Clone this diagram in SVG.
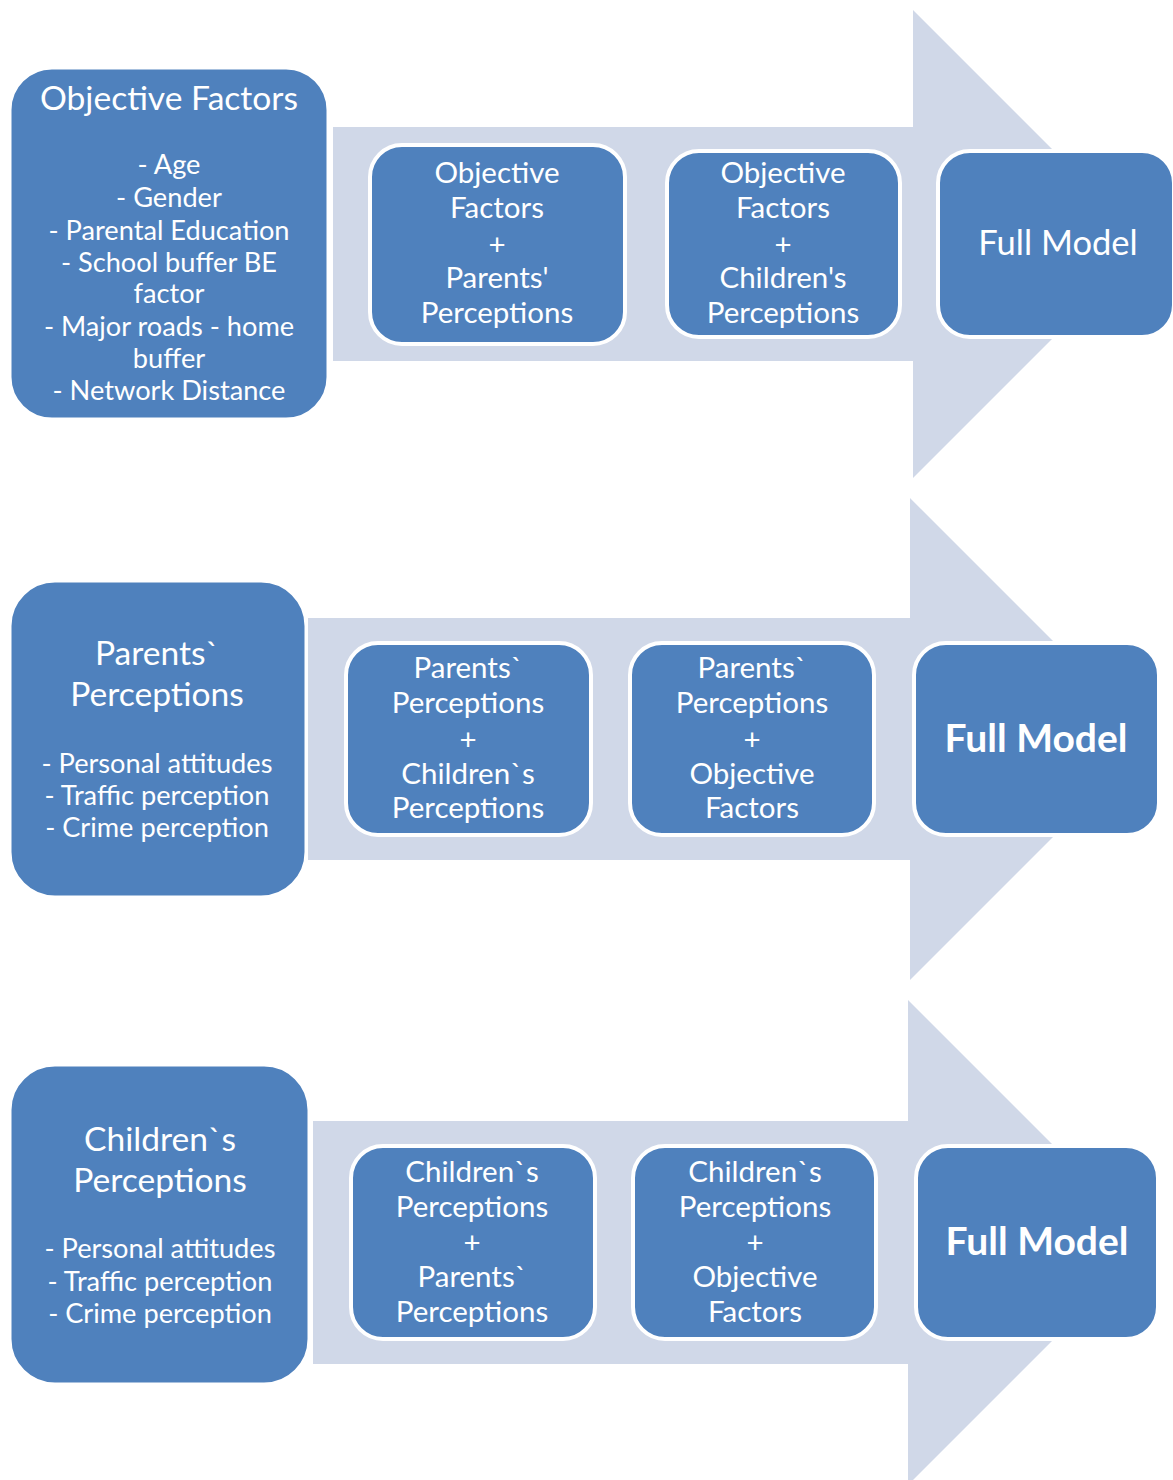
<svg xmlns="http://www.w3.org/2000/svg" width="1173" height="1480" viewBox="0 0 1173 1480">
<style>
.arrow{fill:#D0D8E8;stroke:none}
.big{fill:#4F81BD;stroke:#FFFFFF;stroke-width:3}
.box{fill:#4F81BD;stroke:#FFFFFF;stroke-width:4}
text{font-family:Lato,"Liberation Sans",sans-serif;fill:#FFFFFF;text-anchor:middle}
.t{font-size:33.6px}
.l{font-size:27.2px}
.i{font-size:29.5px}
.fm{font-size:34.5px}
.fb{font-size:39px;font-weight:bold}
</style>
<rect x="0" y="0" width="1173" height="1480" fill="#FFFFFF"/>
<g id="connectors">
<path class="arrow" d="M333,127 H913 V10 L1147,244 L913,478 V361 H333 Z"/>
<path class="arrow" d="M308,618 H910 V498 L1151,739 L910,980 V860 H308 Z"/>
<path class="arrow" d="M313,1121 H908 V1000 L1150.5,1242.5 L908,1485 V1364 H313 Z"/>
</g>
<g id="objective-factors">
<rect class="big" x="10" y="68" width="318" height="351" rx="42"/>
<text class="t" x="169" y="110">Objective Factors</text>
<text class="l" x="169" y="174">- Age</text>
<text class="l" x="169" y="207">- Gender</text>
<text class="l" x="169" y="240">- Parental Education</text>
<text class="l" x="169" y="272">- School buffer BE</text>
<text class="l" x="169" y="303">factor</text>
<text class="l" x="169" y="336">- Major roads - home</text>
<text class="l" x="169" y="368">buffer</text>
<text class="l" x="169" y="400">- Network Distance</text>
</g>
<g id="of-plus-parents">
<rect class="box" x="370" y="145" width="255" height="199" rx="32"/>
<text class="i" x="497" y="183">Objective</text>
<text class="i" x="497" y="218">Factors</text>
<text class="i" x="497" y="255">+</text>
<text class="i" x="497" y="288">Parents'</text>
<text class="i" x="497" y="323">Perceptions</text>
</g>
<g id="of-plus-children">
<rect class="box" x="667" y="151" width="233" height="186" rx="32"/>
<text class="i" x="783" y="183">Objective</text>
<text class="i" x="783" y="218">Factors</text>
<text class="i" x="783" y="255">+</text>
<text class="i" x="783" y="288">Children's</text>
<text class="i" x="783" y="323">Perceptions</text>
</g>
<g id="full-model-1">
<rect class="box" x="938" y="151" width="236" height="186" rx="32"/>
<text class="fm" x="1058" y="255">Full Model</text>
</g>
<g id="parents-perceptions">
<rect class="big" x="10" y="581" width="296" height="316" rx="45"/>
<text class="t" x="157" y="665">Parents`</text>
<text class="t" x="157" y="706">Perceptions</text>
<text class="l" x="157" y="773">- Personal attitudes</text>
<text class="l" x="157" y="805">- Traffic perception</text>
<text class="l" x="157" y="837">- Crime perception</text>
</g>
<g id="pp-plus-children">
<rect class="box" x="346" y="643" width="245" height="192" rx="32"/>
<text class="i" x="468" y="678">Parents`</text>
<text class="i" x="468" y="713">Perceptions</text>
<text class="i" x="468" y="750">+</text>
<text class="i" x="468" y="784">Children`s</text>
<text class="i" x="468" y="818">Perceptions</text>
</g>
<g id="pp-plus-objective">
<rect class="box" x="630" y="643" width="244" height="192" rx="32"/>
<text class="i" x="752" y="678">Parents`</text>
<text class="i" x="752" y="713">Perceptions</text>
<text class="i" x="752" y="750">+</text>
<text class="i" x="752" y="784">Objective</text>
<text class="i" x="752" y="818">Factors</text>
</g>
<g id="full-model-2">
<rect class="box" x="914" y="643" width="245" height="192" rx="32"/>
<text class="fb" x="1036" y="752">Full Model</text>
</g>
<g id="childrens-perceptions">
<rect class="big" x="10" y="1065" width="299" height="319" rx="45"/>
<text class="t" x="160" y="1151">Children`s</text>
<text class="t" x="160" y="1192">Perceptions</text>
<text class="l" x="160" y="1258">- Personal attitudes</text>
<text class="l" x="160" y="1291">- Traffic perception</text>
<text class="l" x="160" y="1323">- Crime perception</text>
</g>
<g id="cp-plus-parents">
<rect class="box" x="351" y="1146" width="244" height="193" rx="32"/>
<text class="i" x="472" y="1182">Children`s</text>
<text class="i" x="472" y="1217">Perceptions</text>
<text class="i" x="472" y="1253">+</text>
<text class="i" x="472" y="1287">Parents`</text>
<text class="i" x="472" y="1322">Perceptions</text>
</g>
<g id="cp-plus-objective">
<rect class="box" x="633" y="1146" width="243" height="193" rx="32"/>
<text class="i" x="755" y="1182">Children`s</text>
<text class="i" x="755" y="1217">Perceptions</text>
<text class="i" x="755" y="1253">+</text>
<text class="i" x="755" y="1287">Objective</text>
<text class="i" x="755" y="1322">Factors</text>
</g>
<g id="full-model-3">
<rect class="box" x="916" y="1146" width="242" height="193" rx="32"/>
<text class="fb" x="1037" y="1255">Full Model</text>
</g>
</svg>
